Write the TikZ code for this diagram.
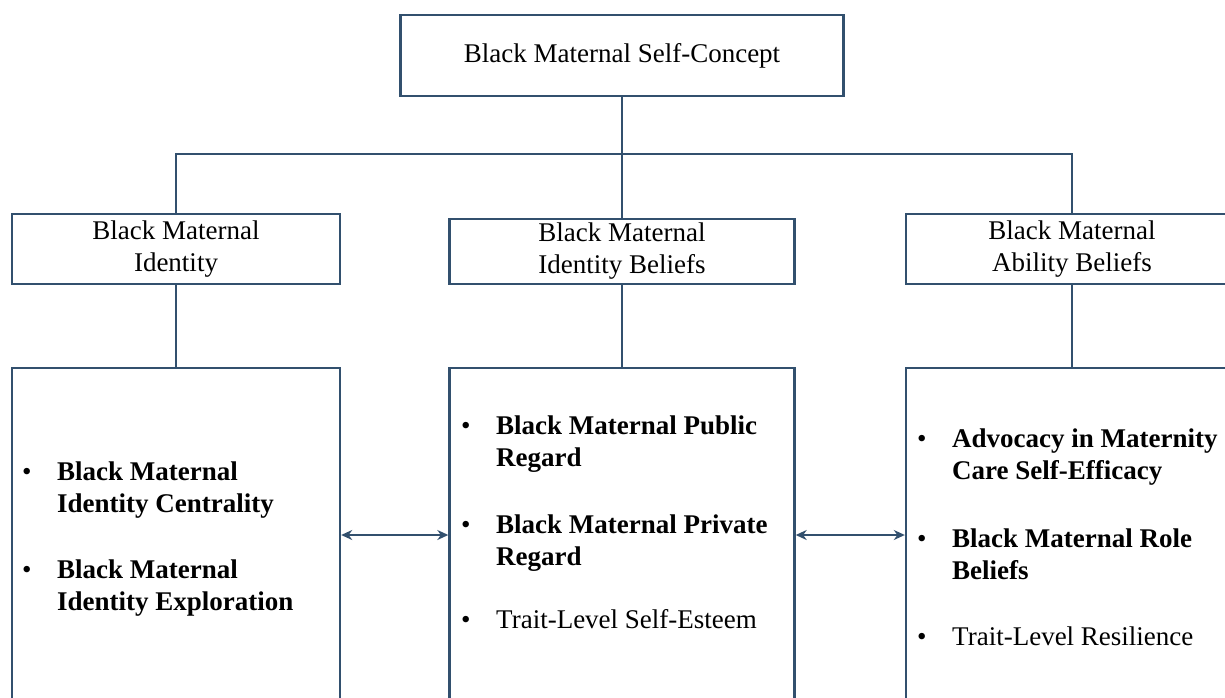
\documentclass[tikz,border=0pt]{standalone}
\usepackage{fontspec}
\setmainfont{Liberation Serif}
\usetikzlibrary{arrows.meta}
\definecolor{framecol}{RGB}{50,80,110}
\tikzset{
  box/.style={draw=framecol, line width=2.4pt, inner sep=0pt, align=center,
    font=\fontsize{27}{32}\selectfont},
  link/.style={draw=framecol, line width=2.4pt},
  both/.style={link, {Stealth[length=11pt,width=10pt]}-{Stealth[length=11pt,width=10pt]}},
  item/.style={anchor=base west, inner sep=0pt, font=\fontsize{27}{32.5}\selectfont},
}
\newcommand{\bitem}[1]{\makebox[35pt][l]{\mdseries\textbullet}\parbox[t]{300pt}{#1}}
\begin{document}
\begin{tikzpicture}[x=1pt, y=-1pt]
  \useasboundingbox (0,0) rectangle (1225,698);
  \clip (0,0) rectangle (1225,698);

  % top concept
  \node[box, minimum width=443pt, minimum height=81pt] (top) at (622,55.5)
    {Black Maternal Self-Concept};

  % second level
  \node[box, minimum width=328pt, minimum height=70pt] (lid) at (176,249)
    {Black Maternal\\Identity};
  \node[box, minimum width=345pt, minimum height=65pt] (mib) at (622,251.5)
    {Black Maternal\\Identity Beliefs};
  \node[box, minimum width=332pt, minimum height=70pt] (rab) at (1072,249)
    {Black Maternal\\Ability Beliefs};

  % third level frames
  \node[box, minimum width=328pt, minimum height=360pt] (lbox) at (176,548) {};
  \node[box, minimum width=345pt, minimum height=360pt] (mbox) at (622,548) {};
  \node[box, minimum width=332pt, minimum height=360pt] (rbox) at (1072,548) {};

  % tree connectors
  \coordinate (busR) at (1072,154);
  \draw[link] (top.south) -- (mib.north);
  \draw[link] (lid.north) |- (busR) -- (rab.north);
  \draw[link] (lid.south) -- (lbox.north);
  \draw[link] (mib.south) -- (mbox.north);
  \draw[link] (rab.south) -- (rbox.north);

  % two-way links between the frames
  \draw[both] ([yshift=13pt]lbox.east) -- ([yshift=13pt]mbox.west);
  \draw[both] ([yshift=13pt]mbox.east) -- ([yshift=13pt]rbox.west);

  % left frame items
  \node[item] (l1) at (22,480) {\bfseries\bitem{Black Maternal\\Identity Centrality}};
  \node[item] (l2) at (22,578) {\bfseries\bitem{Black Maternal\\Identity Exploration}};

  % middle frame items
  \node[item] (m1) at (461,434) {\bfseries\bitem{Black Maternal Public\\Regard}};
  \node[item] (m2) at (461,533) {\bfseries\bitem{Black Maternal Private\\Regard}};
  \node[item] (m3) at (461,628) {\bitem{Trait-Level Self-Esteem}};

  % right frame items
  \node[item] (r1) at (917,447) {\bfseries\bitem{Advocacy in Maternity\\Care Self-Efficacy}};
  \node[item] (r2) at (917,547) {\bfseries\bitem{Black Maternal Role\\Beliefs}};
  \node[item] (r3) at (917,645) {\bitem{Trait-Level Resilience}};
\end{tikzpicture}
\end{document}
